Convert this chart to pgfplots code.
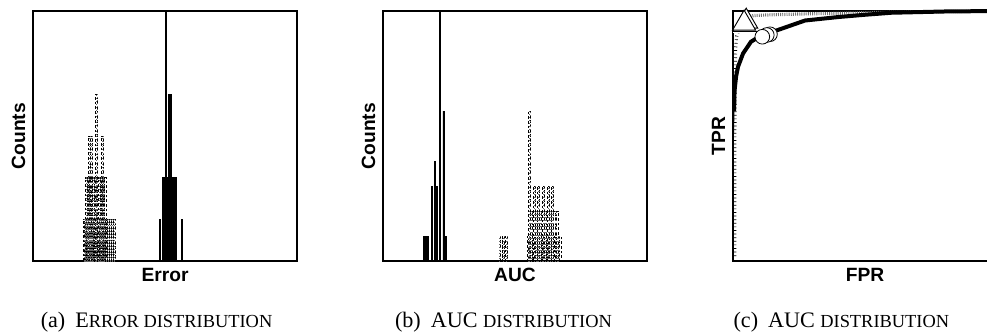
\documentclass[border=0pt]{standalone}
\usepackage{fontspec}
\setmainfont{Liberation Serif}
\setsansfont{Liberation Sans}
\usepackage{pgfplots}
\pgfplotsset{compat=1.18}
\pgfplotsset{
  panel/.style={anchor=south west, scale only axis, width=198pt, height=187.5pt,
    ticks=none, axis line style={line width=0.9pt}, clip=false},
  sbar/.style={ybar, bar shift=0pt, fill=black, draw=black, line width=0.3pt},
  dbar/.style={ybar, bar shift=0pt, fill=none, draw=black, line width=0.45pt, dash pattern=on 2pt off 1.5pt, bar width=1.6},
  gbar/.style={ybar, bar shift=0pt, fill=none, draw=black!60, line width=0.4pt, dash pattern=on 0.6pt off 1.6pt, bar width=1.2},
}
\newcommand{\lab}[1]{{\sffamily\bfseries\fontsize{14.4}{16}\selectfont #1}}
\newcommand{\subcap}[2]{{\rmfamily\fontsize{16.6}{19}\selectfont #1\hspace{0.45em}#2}}
\newcommand{\sm}[1]{{\fontsize{13.8}{15}\selectfont #1}}
\begin{document}
\begin{tikzpicture}
\useasboundingbox (0,0) rectangle (740.25pt,249.75pt);
% ---------------- (a) Error distribution
\begin{axis}[panel, at={(24.75pt,54pt)}, xmin=0, xmax=264, ymin=0, ymax=6]
\addplot[dbar] coordinates {(63,4)(56,3)(58,3)(69,3)(53,2)(55,2)(57,2)(60,2)(62,2)(66,2)(68,2)(70,2)(72,2)
 (51,1)(52,1)(54,1)(59,1)(61,1)(65,1)(67,1)(71,1)(73,1)(75,1)(77,1)(79,1)(81,1)};
\addplot[gbar] coordinates {(64,4)(57,3)(59,3)(70,3)(54,2)(56,2)(61,2)(63,2)(67,2)(69,2)(71,2)
 (52,1)(53,1)(55,1)(58,1)(60,1)(66,1)(68,1)(72,1)(74,1)(76,1)(78,1)(80,1)(82,1)};
\addplot[sbar, bar width=14] coordinates {(135.7,2)};
\addplot[sbar, bar width=3.3] coordinates {(137,4)};
\addplot[sbar, bar width=1.6] coordinates {(126.8,1)(148.8,1)};
\addplot[black, line width=1.3pt] coordinates {(133.3,0)(133.3,6)};
\end{axis}
% ---------------- (b) AUC distribution
\begin{axis}[panel, at={(287.25pt,54pt)}, xmin=0, xmax=264, ymin=0, ymax=10]
\addplot[dbar] coordinates {(146,6)(151,3)(155,3)(160,3)(165,3)(169,3)
 (148,2)(153,2)(157,2)(162,2)(167,2)(171,2)(174,2)
 (118,1)(120,1)(123,1)(145,1)(150,1)(159,1)(164,1)(172,1)(177,1)};
\addplot[gbar] coordinates {(147,6)(152,3)(156,3)(161,3)(166,3)(170,3)
 (149,2)(154,2)(158,2)(163,2)(168,2)(173,2)
 (117,1)(121,1)(124,1)(146,1)(155,1)(160,1)(165,1)(175,1)(176,1)};
\addplot[sbar, bar width=1.0] coordinates {(40.5,1)(42,1)(43.5,1)(45,1)(48.7,3)(51.8,4)(53.9,3)(60.3,6)(62.3,1)};
\addplot[black, line width=1.3pt] coordinates {(57,0)(57,10)};
\end{axis}
% ---------------- (c) ROC
\begin{axis}[panel, at={(549.75pt,54pt)}, xmin=0, xmax=1, ymin=0, ymax=1]
\addplot[black, line width=2.4pt, dash pattern=on 0.5pt off 2.2pt] coordinates {(0.007,0.02)(0.007,0.5)(0.008,0.75)(0.01,0.85)(0.014,0.9)(0.02,0.92)};
\addplot[black!55, line width=2.4pt, dash pattern=on 0.7pt off 0.9pt] coordinates {(0.05,0.975)(0.08,0.982)(0.15,0.985)(0.25,0.988)(0.4,0.991)(0.55,0.994)(0.75,0.997)(1,1)};
\addplot[black, line width=0.6pt] coordinates {(0,0.35)(0.002,0.5)(0.004,0.6)};
\addplot[black, line width=3pt] coordinates {(0.004,0.6)(0.006,0.684)(0.012,0.74)(0.019,0.777)(0.038,0.83)(0.068,0.877)(0.1,0.898)(0.159,0.92)(0.273,0.962)(0.4,0.976)(0.5,0.985)(0.6,0.993)(0.8,0.998)(1,1)};
\addplot[black, line width=0.5pt, double] coordinates {(0,0.915)(0.09,0.915)};
\addplot[only marks, mark=*, mark options={fill=white, draw=black, line width=0.6pt}, mark size=5.5pt] coordinates {(0.14,0.907)(0.128,0.904)(0.111,0.897)};
\addplot[only marks, mark=triangle*, mark options={fill=white, draw=black, line width=0.7pt}, mark size=10pt] coordinates {(0.05,0.958)(0.042,0.95)};
\end{axis}
% labels
\node[anchor=base] at (123.75pt,39pt) {\lab{Error}};
\node[anchor=base] at (386.25pt,39pt) {\lab{AUC}};
\node[anchor=base] at (648.75pt,39pt) {\lab{FPR}};
\node[anchor=base, rotate=90] at (18.75pt,147.75pt) {\lab{Counts}};
\node[anchor=base, rotate=90] at (281.25pt,147.75pt) {\lab{Counts}};
\node[anchor=base, rotate=90] at (543.75pt,147.75pt) {\lab{TPR}};
% captions
\node[anchor=base] at (117.4pt,4pt) {\subcap{(a)}{E\sm{RROR DISTRIBUTION}}};
\node[anchor=base] at (377.6pt,4pt) {\subcap{(b)}{AUC \sm{DISTRIBUTION}}};
\node[anchor=base] at (631pt,4pt) {\subcap{(c)}{AUC \sm{DISTRIBUTION}}};
\end{tikzpicture}
\end{document}
